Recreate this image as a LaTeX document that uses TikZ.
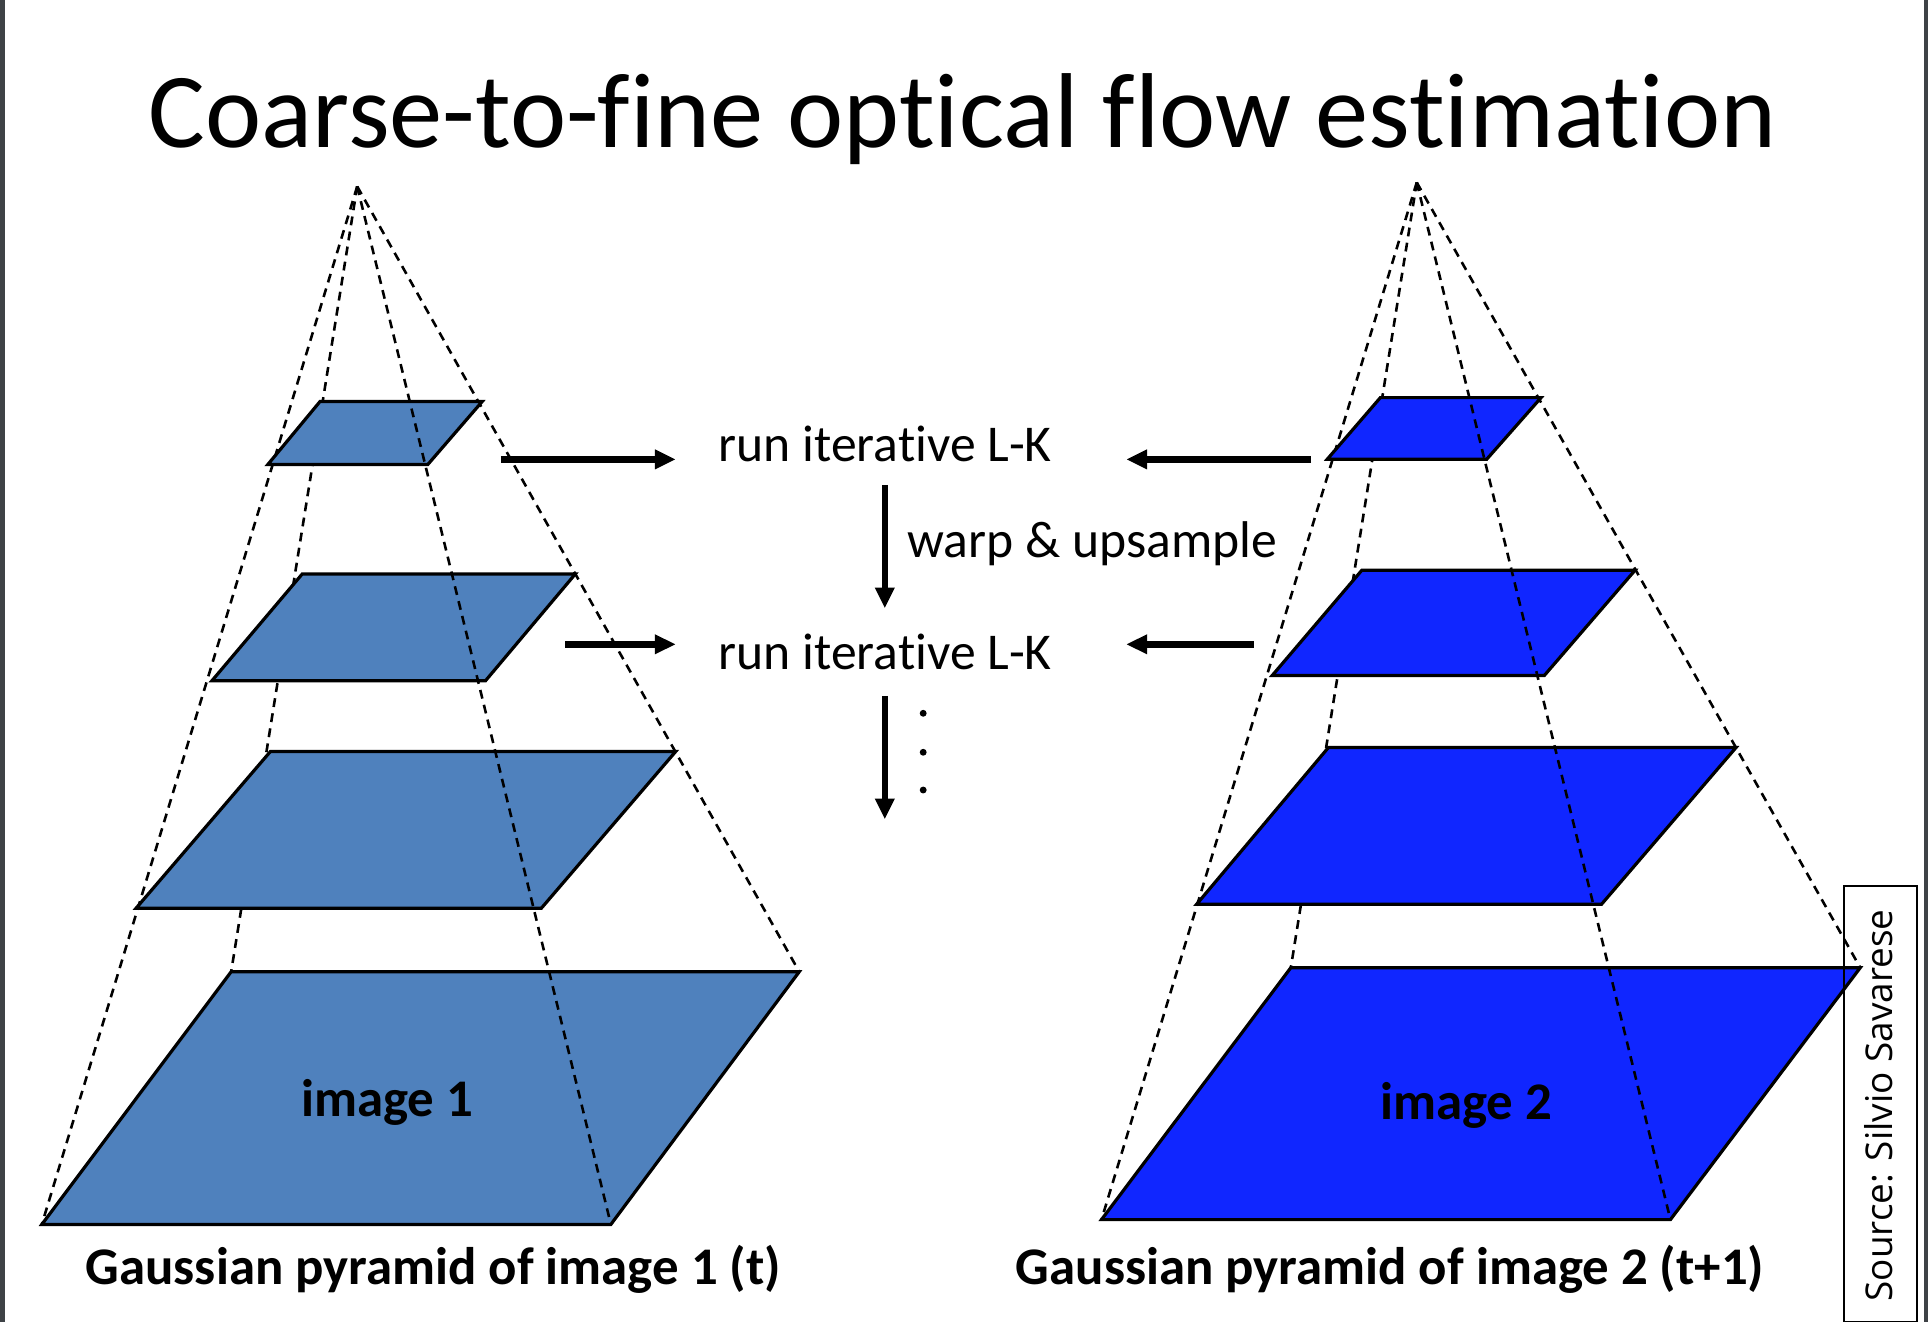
\documentclass[tikz,border=0pt]{standalone}
\usepackage{fontspec}
\setmainfont{Carlito}[Ligatures=NoCommon]
\newfontfamily\srcfont{Open Sans}
\usetikzlibrary{arrows.meta}
\definecolor{steel}{RGB}{79,129,189}
\definecolor{vivid}{RGB}{16,38,255}
\definecolor{rim}{RGB}{62,66,70}

\begin{document}
\begin{tikzpicture}[x=0.5pt, y=-0.5pt,
  layerA/.style = {draw, line width=1.3pt, fill=steel},
  layerB/.style = {draw, line width=1.3pt, fill=vivid},
  edge/.style = {line width=1.05pt, dash pattern=on 3.6pt off 2.6pt},
  flow/.style = {line width=2.6pt, -{Triangle[length=8.5pt,width=7.5pt]}},
  txt/.style = {font=\fontsize{21}{25}\selectfont, inner sep=0pt},
  lbl/.style = {font=\fontsize{21.5}{25}\selectfont\bfseries, inner sep=0pt}]
\useasboundingbox (0,0) rectangle (1568,1075);
\fill[rim] (0,0) rectangle (4,1075);
\fill[rim] (1565,0) rectangle (1568,1075);

\node (title) [anchor=base, font=\fontsize{43.3}{50}\selectfont, inner sep=0pt] at (783,120) {Coarse-to-fine optical flow estimation};

% left pyramid
\coordinate (topA) at (290.5,151.6);
\coordinate (a4tl) at (188,790.3);
\coordinate (a4tr) at (650,790.3);
\coordinate (a4br) at (496.8,995.8);
\coordinate (a4bl) at (34,995.8);
\draw[edge] (topA) -- (a4bl);
\draw[edge] (topA) -- (a4tl);
\draw[edge] (topA) -- (a4tr);
\draw[layerA] (260.3,326.5) -- (392.2,326.5) -- (347.9,377.8) -- (217.8,377.8) -- cycle;
\draw[layerA] (245.8,466.8) -- (467.9,466.8) -- (394.8,553.7) -- (172.3,553.7) -- cycle;
\draw[layerA] (219.9,611.2) -- (549.5,611.2) -- (440.2,738.7) -- (110.6,738.7) -- cycle;
\draw[layerA] (a4tl) -- (a4tr) -- (a4br) -- (a4bl) -- cycle;
\draw[edge] (topA) -- (a4br);

% right pyramid
\coordinate (topB) at (1152.2,148.4);
\coordinate (b4tl) at (1049.8,787);
\coordinate (b4tr) at (1512.9,787);
\coordinate (b4br) at (1358.5,991.9);
\coordinate (b4bl) at (895.8,991.9);
\draw[edge] (topB) -- (b4bl);
\draw[edge] (topB) -- (b4tl);
\draw[edge] (topB) -- (b4tr);
\draw[layerB] (1122.6,323.4) -- (1253.3,323.4) -- (1209.1,373.5) -- (1079.4,373.5) -- cycle;
\draw[layerB] (1107.6,463.7) -- (1329.8,463.7) -- (1256,549.3) -- (1034.7,549.3) -- cycle;
\draw[layerB] (1080.3,608) -- (1411.8,608) -- (1302.5,735.4) -- (973.2,735.4) -- cycle;
\draw[layerB] (b4tl) -- (b4tr) -- (b4br) -- (b4bl) -- cycle;
\draw[edge] (topB) -- (b4br);

\node (img1) [lbl, anchor=base] at (314.8,908) {image 1};
\node (img2) [lbl, anchor=base] at (1192.5,910.6) {image 2};
\node (cap1) [lbl, anchor=base] at (352.4,1045) {Gaussian pyramid of image 1 (t)};
\node (cap2) [lbl, anchor=base] at (1130.5,1045) {Gaussian pyramid of image 2 (t+1)};

% middle column
\node (lk1) [txt, anchor=base] at (720,375.5) {run iterative L-K};
\node (lk2) [txt, anchor=base] at (720,544.4) {run iterative L-K};
\node (warp) [txt, anchor=base west] at (737.5,453.3) {warp \& upsample};
\coordinate (in1) at (407.3,373.6);
\coordinate (to1) at (549.6,373.6);
\coordinate (in2) at (1066.2,373.6);
\coordinate (from1) at (915.9,373.6);
\coordinate (in3) at (459.5,524);
\coordinate (to2) at (549.6,524);
\coordinate (in4) at (1019.5,524);
\coordinate (from2) at (915.9,524);
\coordinate (d1) at (719.6,394.4);
\coordinate (d2) at (719.6,494.8);
\coordinate (d3) at (719.6,566);
\coordinate (d4) at (719.6,666.4);
\draw[flow] (in1) -- (to1);
\draw[flow] (in2) -- (from1);
\draw[flow] (in3) -- (to2);
\draw[flow] (in4) -- (from2);
\draw[flow] (d1) -- (d2);
\draw[flow] (d3) -- (d4);
\fill (750.8,580.1) circle (1.4pt);
\fill (750.8,611.8) circle (1.4pt);
\fill (750.8,642.5) circle (1.4pt);

% source box
\draw[line width=1pt] (1499.7,720.6) rectangle (1559,1075);
\node (src) [rotate=90, inner sep=0pt, font=\srcfont\fontsize{15}{18}\selectfont] at (1528,899) {Source: Silvio Savarese};
\end{tikzpicture}
\end{document}
